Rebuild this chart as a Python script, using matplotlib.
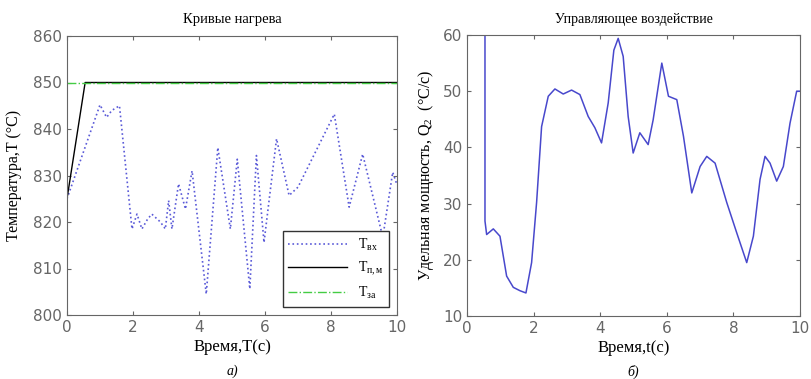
import numpy as np
import matplotlib
matplotlib.use('Agg')
import matplotlib.pyplot as plt

plt.rcParams['mathtext.fontset'] = 'custom'
plt.rcParams['mathtext.rm'] = 'Liberation Serif'
plt.rcParams['mathtext.it'] = 'Liberation Serif:italic'
plt.rcParams['xtick.direction'] = 'in'
plt.rcParams['ytick.direction'] = 'in'

# ── Data: left panel (heating curves) ────────────────────────────────────────
t_in = [0.0, 1.0, 1.2, 1.36, 1.59, 1.97, 2.12, 2.27, 2.44, 2.57, 2.83, 2.98,
        3.08, 3.18, 3.38, 3.59, 3.79, 4.22, 4.57, 4.95, 5.16, 5.54, 5.74,
        5.97, 6.35, 6.73, 7.0, 8.1, 8.55, 8.96, 9.57, 9.87, 10.0]
T_in = [825.0, 845.2, 842.5, 844.0, 845.0, 818.5, 821.7, 818.5, 820.6, 821.7,
        820.0, 818.5, 824.6, 818.5, 828.2, 822.8, 831.0, 804.5, 836.0, 818.5,
        833.5, 805.6, 834.3, 815.6, 837.9, 825.7, 827.5, 843.2, 823.2, 834.6,
        816.7, 830.7, 828.0]

t_pm = [0.0, 0.55, 10.0]
T_pm = [825.0, 850.0, 850.0]

t_set = [0.0, 10.0]
T_set = [850.0, 850.0]

# ── Data: right panel (control action) ───────────────────────────────────────
t_q = [0.54, 0.54, 0.59, 0.79, 0.99, 1.19, 1.39, 1.59, 1.77, 1.94, 2.09, 2.24,
       2.44, 2.64, 2.89, 3.14, 3.39, 3.64, 3.84, 4.04, 4.24, 4.41, 4.54, 4.69,
       4.84, 4.99, 5.19, 5.44, 5.59, 5.85, 6.05, 6.30, 6.50, 6.75, 7.0, 7.2,
       7.45, 7.8, 8.1, 8.4, 8.6, 8.8, 8.95, 9.1, 9.3, 9.5, 9.7, 9.9, 10.0]
Q = [70.0, 26.9, 24.5, 25.5, 24.2, 17.1, 15.1, 14.5, 14.1, 19.5, 30.2, 43.7,
     49.1, 50.4, 49.5, 50.2, 49.4, 45.5, 43.5, 40.8, 47.9, 57.3, 59.4, 56.2,
     45.5, 39.0, 42.6, 40.5, 44.9, 55.0, 49.1, 48.5, 42.0, 31.9, 36.6, 38.4,
     37.2, 30.2, 24.8, 19.5, 24.2, 34.3, 38.4, 37.2, 34.0, 36.6, 44.3, 50.0,
     50.0]

fig = plt.figure(figsize=(8.11, 3.79), dpi=100)
W, H = 811, 379
ax1 = fig.add_axes([67 / W, 1 - 315 / H, 330 / W, 279 / H])
ax2 = fig.add_axes([467 / W, 1 - 316 / H, 333 / W, 281 / H])

serif = 'Liberation Serif'
tick_col = '#666666'

# ── Left panel ───────────────────────────────────────────────────────────────
ax1.plot(t_in, T_in, linestyle=':', color='#5a5ad8', linewidth=1.2, label='T$_{\\mathrm{вх}}$')
ax1.plot(t_pm, T_pm, color='black', linewidth=1.0, label='T$_{\\mathrm{п,м}}$')
ax1.plot(t_set, T_set, linestyle='-.', color='#44cc44', linewidth=1.0, label='T$_{\\mathrm{за}}$')
ax1.set_xlim(0, 10)
ax1.set_ylim(800, 860)
ax1.set_xticks(range(0, 11, 2))
ax1.set_yticks(range(800, 861, 10))
ax1.set_title('Кривые нагрева', fontsize=10.5, family=serif, pad=9)
ax1.set_ylabel('Температура,T (°C)', fontsize=11.5, family=serif, labelpad=8)
ax1.set_xlabel('Время,T(c)', fontsize=12, family=serif, labelpad=3)
ax1.text(0.5, -0.2, 'а)', transform=ax1.transAxes, ha='center', va='center',
         fontsize=10, family=serif, style='italic')
leg = ax1.legend(loc='lower right', bbox_to_anchor=(0.975, 0.03),
                 handlelength=4.2, borderaxespad=0, fancybox=False,
                 framealpha=1, edgecolor='#333333', prop={'family': serif, 'size': 10})

# ── Right panel ──────────────────────────────────────────────────────────────
ax2.plot(t_q, Q, color='#4848cc', linewidth=1.1)
ax2.set_xlim(0, 10)
ax2.set_ylim(10, 60)
ax2.set_xticks(range(0, 11, 2))
ax2.set_yticks(range(10, 61, 10))
ax2.set_title('Управляющее воздействие', fontsize=10, family=serif, pad=9)
ax2.set_ylabel('Удельная мощность, Q$_2$  (°C/c)', fontsize=11.5, family=serif, labelpad=5)
ax2.set_xlabel('Время,t(c)', fontsize=12, family=serif, labelpad=3)
ax2.text(0.5, -0.2, 'б)', transform=ax2.transAxes, ha='center', va='center',
         fontsize=10, family=serif, style='italic')

for ax in (ax1, ax2):
    ax.tick_params(top=True, right=True, labelsize=11, colors=tick_col, length=3)
    ax.tick_params(labelcolor=tick_col)
    for sp in ax.spines.values():
        sp.set_color('#666666')

fig.savefig('out.png', dpi=100)
